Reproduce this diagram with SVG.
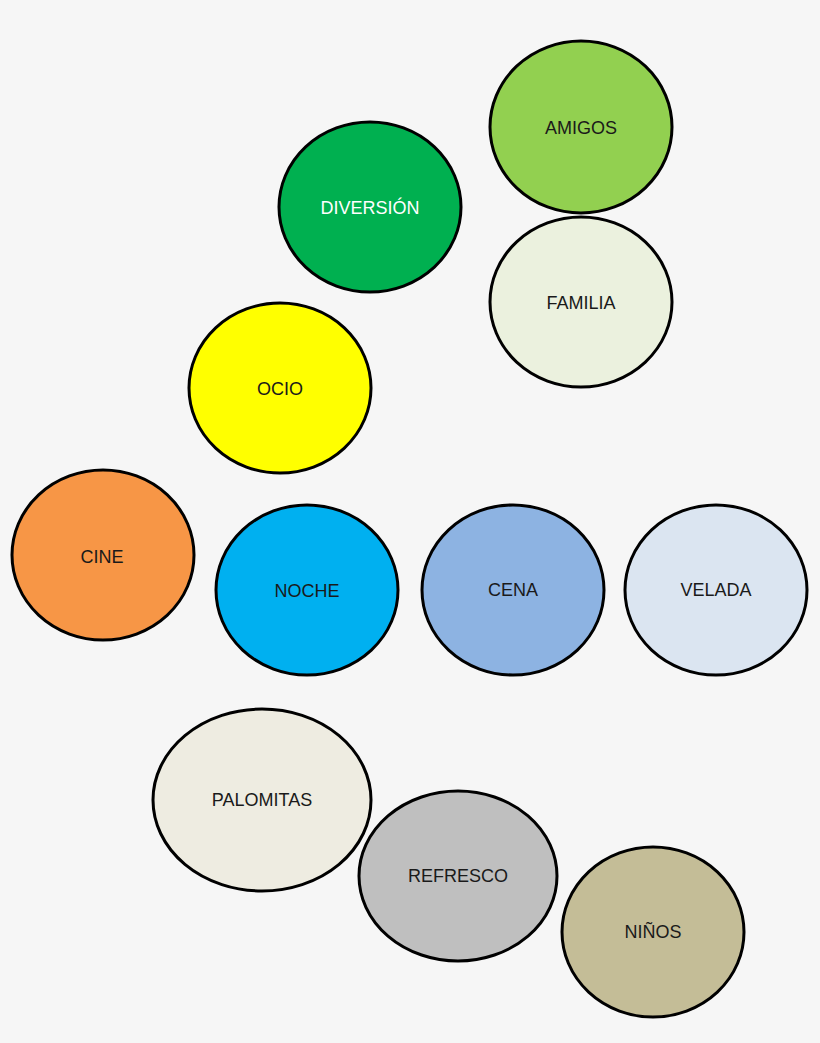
<svg xmlns="http://www.w3.org/2000/svg" width="820" height="1043" viewBox="0 0 820 1043">
<style>
ellipse{stroke:#000;stroke-width:3}
text{font-family:"Liberation Sans",Arial,sans-serif;text-anchor:middle;dominant-baseline:central;fill:#1a1a1a;font-size:18px}
</style>
<rect width="820" height="1043" fill="#f6f6f6"/>
<g id="amigos"><ellipse cx="581" cy="127" rx="91" ry="86" fill="#92d050"/><text x="581" y="128">AMIGOS</text></g>
<g id="diversion"><ellipse cx="370" cy="207" rx="91" ry="85" fill="#00b050"/><text x="370" y="208" fill="#fff" style="fill:#fff">DIVERSIÓN</text></g>
<g id="familia"><ellipse cx="581" cy="302" rx="91" ry="85" fill="#ebf1de"/><text x="581" y="303">FAMILIA</text></g>
<g id="ocio"><ellipse cx="280" cy="388" rx="91" ry="85" fill="#ffff00"/><text x="280" y="389" font-size="36">OCIO</text></g>
<g id="cine"><ellipse cx="103" cy="555" rx="91" ry="85" fill="#f79646"/><text x="102" y="557" font-size="44">CINE</text></g>
<g id="noche"><ellipse cx="307" cy="590" rx="91" ry="85" fill="#00b0f0"/><text x="307" y="591" font-size="30">NOCHE</text></g>
<g id="cena"><ellipse cx="513" cy="590" rx="91" ry="85" fill="#8db3e2"/><text x="513" y="590">CENA</text></g>
<g id="velada"><ellipse cx="716" cy="590" rx="91" ry="85" fill="#dbe5f1"/><text x="716" y="590">VELADA</text></g>
<g id="palomitas"><ellipse cx="262" cy="800" rx="109" ry="91" fill="#eeece1"/><text x="262" y="800">PALOMITAS</text></g>
<g id="refresco"><ellipse cx="458" cy="876" rx="99" ry="85" fill="#bfbfbf"/><text x="458" y="876">REFRESCO</text></g>
<g id="ninos"><ellipse cx="653" cy="932" rx="91" ry="85" fill="#c4bd97"/><text x="653" y="932">NIÑOS</text></g>
<g id="connectors"/>
</svg>
